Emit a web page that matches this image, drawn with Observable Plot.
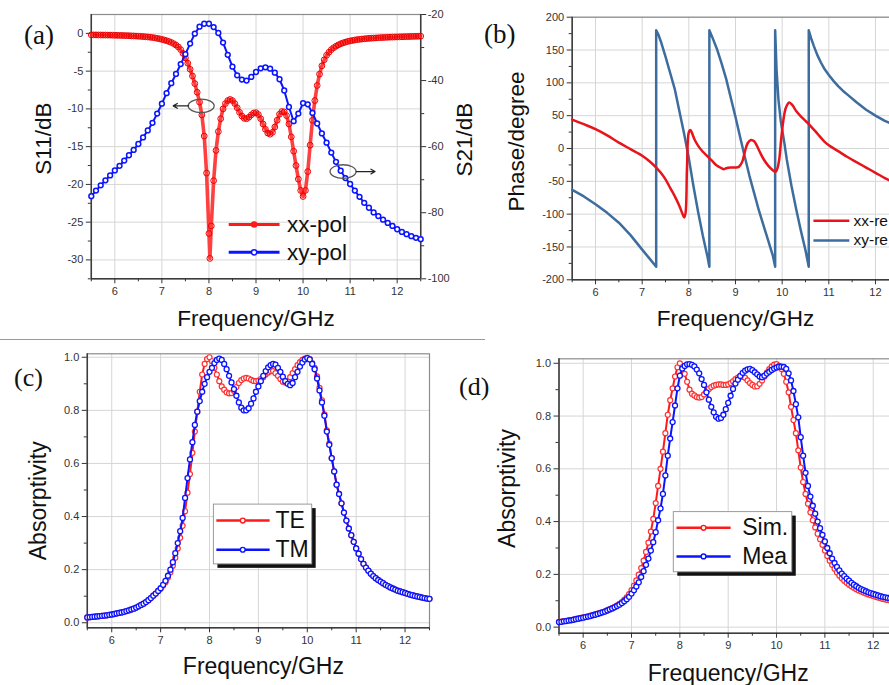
<!DOCTYPE html>
<html><head><meta charset="utf-8">
<script src="https://cdn.jsdelivr.net/npm/d3@7"></script>
<script src="https://cdn.jsdelivr.net/npm/@observablehq/plot@0.6"></script>
<style>
html,body{margin:0;padding:0;background:#fff}
#page{position:relative;width:889px;height:685px;overflow:hidden;background:#fff;font-family:"Liberation Sans",Arial,sans-serif}
.panel{position:absolute}
.tag{position:absolute;font-family:"Liberation Serif","Times New Roman",serif;line-height:1;color:#111;white-space:nowrap}
.sep{position:absolute;left:0;top:339px;width:485px;height:1px;background:#9a9a9a}
</style></head><body><div id="page">
<div class="panel" id="pa" style="left:0;top:0;width:480px;height:340px"></div>
<div class="panel" id="pb" style="left:445px;top:0;width:470px;height:340px"></div>
<div class="panel" id="pc" style="left:0;top:340px;width:445px;height:345px"></div>
<div class="panel" id="pd" style="left:445px;top:340px;width:470px;height:345px"></div>
<div class="sep"></div>
<div class="tag" style="left:24px;top:22px;font-size:27px">(a)</div>
<div class="tag" style="left:484px;top:21px;font-size:27px">(b)</div>
<div class="tag" style="left:14px;top:365px;font-size:26px">(c)</div>
<div class="tag" style="left:459px;top:374px;font-size:26px">(d)</div>
</div>
<script>
// ---------- data ----------
// frequency sampling (GHz)
const freq05 = d3.range(141).map(i => Math.round((5.5 + i * 0.05) * 100) / 100);
const freq10 = d3.range(71).map(i => Math.round((5.5 + i * 0.1) * 10) / 10);

// (a) S11 xx-pol (dB), sampled on freq05
const s11 = [
-0.20,-0.20,-0.20,-0.21,-0.21,-0.22,-0.22,-0.23,-0.23,-0.24,
-0.25,-0.26,-0.27,-0.28,-0.29,-0.30,-0.31,-0.33,-0.34,-0.36,
-0.38,-0.40,-0.42,-0.45,-0.48,-0.51,-0.55,-0.60,-0.66,-0.72,
-0.80,-0.88,-0.97,-1.08,-1.20,-1.36,-1.55,-1.80,-2.15,-2.65,
-3.25,-3.95,-4.75,-5.65,-6.65,-7.80,-9.10,-10.8,-13.6,-18.5,
-26.5,-25.5,-19.5,-15.5,-13.0,-11.3,-10.0,-9.3,-8.9,-8.75,
-8.9,-9.3,-9.85,-10.45,-10.95,-11.25,-11.3,-11.1,-10.8,-10.55,
-10.5,-10.75,-11.3,-12.0,-12.7,-13.2,-13.35,-13.1,-12.4,-11.5,
-10.7,-10.35,-10.4,-10.9,-12.0,-13.7,-15.6,-17.5,-19.3,-20.8,
-21.6,-20.8,-18.3,-14.8,-11.5,-8.9,-6.9,-5.4,-4.3,-3.5,
-2.9,-2.5,-2.15,-1.9,-1.7,-1.52,-1.38,-1.26,-1.16,-1.07,
-1.00,-0.94,-0.88,-0.83,-0.79,-0.75,-0.72,-0.69,-0.66,-0.64,
-0.62,-0.60,-0.58,-0.56,-0.55,-0.53,-0.52,-0.50,-0.49,-0.48,
-0.47,-0.46,-0.45,-0.44,-0.43,-0.42,-0.41,-0.40,-0.39,-0.38,
-0.37];
const s11DipFreq = [8.02];
const s11DipVal = [-29.8];

// (a) S21 xy-pol (dB), sampled on freq10
const s21 = [
-75.0,-73.3,-71.7,-70.2,-68.7,-67.2,-65.8,-64.2,-62.6,-61.0,
-59.2,-57.2,-55.1,-52.8,-50.0,-47.0,-43.8,-40.8,-38.0,-35.0,
-32.0,-28.8,-25.8,-23.7,-22.8,-22.8,-23.8,-25.6,-28.5,-32.2,
-35.8,-38.4,-39.7,-40.0,-38.9,-37.4,-36.3,-36.0,-36.4,-37.6,
-39.6,-43.0,-48.0,-52.3,-50.0,-46.8,-47.2,-49.8,-53.0,-56.0,
-58.8,-61.8,-64.6,-67.3,-69.5,-71.3,-73.3,-75.2,-77.0,-78.5,
-79.9,-81.0,-82.1,-83.1,-84.0,-85.0,-85.8,-86.5,-87.1,-87.6,
-88.0];

// (b) phase (degree)
const phaseXXFreq = [5.5,5.75,6.0,6.25,6.5,6.75,7.0,7.15,7.3,7.4,7.5,7.6,7.7,7.8,7.85,7.9,7.93,7.96,8.0,8.03,8.06,8.12,8.2,8.3,8.4,8.5,8.6,8.7,8.75,8.8,8.9,9.0,9.07,9.14,9.2,9.26,9.33,9.4,9.46,9.52,9.6,9.7,9.8,9.86,9.9,9.94,9.98,10.03,10.08,10.15,10.22,10.3,10.4,10.5,10.6,10.75,10.9,11.0,11.2,11.4,11.6,11.8,12.0,12.2,12.5];
const phaseXXVal = [44,37,29.5,20,9,-1,-11,-19,-29,-37,-47,-60,-73,-88,-97,-105,-98,-30,25,28,25,14,4,-5,-12,-19,-26,-30,-31.5,-30,-29,-29,-28,-21,-5,8,13,11,4,-5,-16,-26,-33,-35.5,-30,-15,15,45,62,70,66,57,49,42,35,23,11,5,-4,-13,-21,-29,-37,-45,-55];
const phaseXYFreq = [5.5,5.75,6.0,6.25,6.5,6.75,7.0,7.15,7.3,7.3,7.35,7.4,7.5,7.6,7.7,7.8,7.9,8.0,8.1,8.2,8.3,8.4,8.44,8.44,8.5,8.6,8.7,8.8,8.9,9.0,9.1,9.2,9.3,9.4,9.5,9.6,9.7,9.8,9.85,9.85,9.88,9.92,9.97,10.05,10.1,10.2,10.3,10.4,10.5,10.57,10.57,10.62,10.68,10.75,10.83,10.9,11.0,11.1,11.2,11.3,11.4,11.6,11.8,12.0,12.2,12.5];
const phaseXYVal = [-63,-73,-85,-98,-113,-132,-154,-167,-180,180,173,163,140,115,90,56,22,-15,-58,-97,-133,-165,-180,180,170,152,130,106,77,48,17,-13,-42,-68,-94,-117,-140,-163,-180,180,120,75,42,7,-17,-57,-92,-125,-155,-180,180,168,156,143,131,122,112,103,95,88,82,70,59,50,42,33];

// (c) absorptivity TE / TM, sampled on freq05
const absTE = [
0.020,0.021,0.022,0.023,0.024,0.025,0.026,0.027,0.028,0.030,
0.031,0.033,0.035,0.037,0.039,0.041,0.044,0.047,0.050,0.053,
0.057,0.062,0.067,0.072,0.078,0.085,0.093,0.102,0.110,0.120,
0.128,0.140,0.153,0.170,0.190,0.215,0.245,0.280,0.320,0.365,
0.420,0.490,0.560,0.640,0.720,0.795,0.870,0.935,0.975,0.993,
1.000,0.985,0.960,0.935,0.910,0.890,0.878,0.868,0.864,0.865,
0.874,0.888,0.903,0.914,0.920,0.922,0.920,0.915,0.911,0.910,
0.912,0.918,0.925,0.935,0.943,0.948,0.948,0.940,0.930,0.918,
0.908,0.905,0.910,0.925,0.940,0.955,0.970,0.982,0.990,0.995,
0.998,0.993,0.978,0.960,0.928,0.885,0.838,0.785,0.725,0.675,
0.620,0.570,0.520,0.485,0.450,0.415,0.385,0.355,0.330,0.305,
0.280,0.260,0.240,0.222,0.208,0.196,0.185,0.176,0.168,0.161,
0.155,0.149,0.143,0.138,0.133,0.129,0.125,0.121,0.118,0.115,
0.112,0.109,0.106,0.104,0.101,0.099,0.097,0.095,0.093,0.091,
0.090];
const absTM = [
0.020,0.021,0.022,0.023,0.024,0.025,0.026,0.027,0.028,0.030,
0.031,0.033,0.035,0.037,0.039,0.041,0.044,0.047,0.050,0.053,
0.057,0.062,0.067,0.072,0.078,0.085,0.093,0.102,0.110,0.120,
0.130,0.143,0.158,0.177,0.200,0.228,0.262,0.300,0.345,0.395,
0.470,0.545,0.615,0.680,0.745,0.795,0.835,0.870,0.900,0.925,
0.945,0.960,0.978,0.990,0.995,0.990,0.975,0.955,0.930,0.905,
0.880,0.855,0.830,0.810,0.800,0.800,0.808,0.825,0.845,0.870,
0.890,0.910,0.930,0.948,0.962,0.970,0.975,0.972,0.960,0.945,
0.927,0.910,0.900,0.895,0.903,0.925,0.945,0.965,0.980,0.992,
0.997,0.992,0.975,0.955,0.920,0.875,0.830,0.780,0.720,0.670,
0.620,0.570,0.520,0.485,0.450,0.415,0.385,0.355,0.330,0.305,
0.280,0.260,0.240,0.222,0.208,0.196,0.185,0.176,0.168,0.161,
0.155,0.149,0.143,0.138,0.133,0.129,0.125,0.121,0.118,0.115,
0.112,0.109,0.106,0.104,0.101,0.099,0.097,0.095,0.093,0.091,
0.090];

// (d) absorptivity Sim. / Mea, sampled on freq05
const absSim = [
0.020,0.021,0.023,0.024,0.026,0.027,0.029,0.031,0.033,0.035,
0.037,0.039,0.041,0.044,0.046,0.049,0.051,0.054,0.057,0.060,
0.064,0.068,0.072,0.077,0.082,0.088,0.095,0.103,0.113,0.125,
0.140,0.157,0.177,0.199,0.224,0.252,0.285,0.320,0.362,0.410,
0.470,0.535,0.600,0.665,0.735,0.805,0.860,0.905,0.950,0.985,
1.000,0.985,0.960,0.930,0.900,0.885,0.878,0.872,0.870,0.872,
0.882,0.893,0.903,0.910,0.915,0.918,0.920,0.920,0.918,0.918,
0.920,0.925,0.932,0.940,0.946,0.948,0.948,0.945,0.935,0.925,
0.918,0.912,0.913,0.922,0.935,0.950,0.965,0.978,0.988,0.995,
0.997,0.990,0.978,0.960,0.930,0.890,0.835,0.785,0.735,0.670,
0.605,0.550,0.505,0.468,0.435,0.405,0.378,0.354,0.333,0.312,
0.290,0.270,0.252,0.236,0.221,0.207,0.195,0.185,0.176,0.168,
0.161,0.155,0.149,0.144,0.139,0.135,0.131,0.127,0.124,0.121,
0.118,0.115,0.112,0.110,0.107,0.105,0.103,0.101,0.099,0.097,
0.095];
const absMea = [
0.019,0.020,0.022,0.023,0.025,0.026,0.028,0.030,0.032,0.034,
0.036,0.038,0.040,0.042,0.045,0.047,0.050,0.053,0.056,0.059,
0.063,0.067,0.071,0.075,0.080,0.085,0.091,0.098,0.106,0.115,
0.127,0.140,0.154,0.170,0.190,0.212,0.236,0.260,0.290,0.322,
0.360,0.405,0.450,0.505,0.575,0.650,0.715,0.777,0.840,0.905,
0.953,0.980,0.990,0.996,0.997,0.994,0.988,0.976,0.962,0.940,
0.918,0.890,0.862,0.835,0.814,0.797,0.790,0.793,0.805,0.826,
0.850,0.877,0.903,0.923,0.938,0.952,0.964,0.972,0.977,0.979,
0.974,0.966,0.958,0.950,0.947,0.953,0.961,0.968,0.975,0.980,
0.984,0.987,0.987,0.986,0.979,0.962,0.935,0.895,0.845,0.795,
0.720,0.650,0.585,0.535,0.495,0.460,0.430,0.400,0.375,0.350,
0.325,0.300,0.280,0.260,0.243,0.228,0.215,0.203,0.193,0.184,
0.176,0.168,0.161,0.155,0.149,0.144,0.140,0.136,0.132,0.129,
0.126,0.123,0.120,0.117,0.115,0.113,0.111,0.109,0.107,0.105,
0.103];

// ticks
const freqTicks = [6,7,8,9,10,11,12];
const freqMinor = [5.5,6.5,7.5,8.5,9.5,10.5,11.5,12.5];
const s11Ticks = [-30,-25,-20,-15,-10,-5,0];
const s11Minor = [-32.5,-27.5,-22.5,-17.5,-12.5,-7.5,-2.5];
const s21Ticks = [-100,-80,-60,-40,-20];
const s21Minor = [-90,-70,-50,-30];
const phaseTicks = [-200,-150,-100,-50,0,50,100,150,200];
const phaseMinor = [-175,-125,-75,-25,25,75,125,175];
const absTicks = [0,0.2,0.4,0.6,0.8,1.0];
const absMinor = [0.1,0.3,0.5,0.7,0.9];

// ---------- helpers ----------
const FONT = "'Liberation Sans', Arial, Helvetica, sans-serif";
const xDomain = [5.5, 12.5];
const rows = (xs, ys) => xs.map((x, i) => ({f: x, v: ys[i]}));
// left S11 axis [-32.5, 2.5] shares pixels with right S21 axis [-100, -20]
const s21ToLeft = v => -32.5 + (v + 100) * 35 / 80;
const leftToS21 = d => Math.round(-100 + (d + 32.5) * 80 / 35);

function panel(o) {
  return Plot.plot({
    width: o.width, height: o.height,
    marginTop: o.mt, marginRight: o.mr, marginBottom: o.mb, marginLeft: o.ml,
    style: {background: "transparent", maxWidth: "none", overflow: "visible", fontFamily: FONT},
    x: {domain: xDomain, label: null},
    y: {domain: o.yDomain, label: null},
    marks: [
      Plot.gridX(freqTicks, {stroke: "#d6d6d6", strokeOpacity: 1}),
      Plot.gridY(o.yTicks, {stroke: "#d6d6d6", strokeOpacity: 1}),
      Plot.frame({stroke: "#8c8c8c", strokeWidth: 1.2}),
      Plot.ruleX([xDomain[0]], {stroke: "#3c3c3c", strokeWidth: 1.5}),
      Plot.ruleY([o.yDomain[0]], {stroke: "#3c3c3c", strokeWidth: 1.5}),
      Plot.axisX(freqTicks, {tickSize: 5, tickPadding: 3, fontSize: 11, color: "#333", label: null, tickFormat: d => String(d)}),
      Plot.axisX(freqMinor, {tickSize: 3, color: "#333", label: null, tickFormat: () => ""}),
      Plot.axisY(o.yTicks, {anchor: "left", tickSize: 5, tickPadding: 3, fontSize: 11, color: "#333", label: null, tickFormat: o.yFormat}),
      Plot.axisY(o.yMinor, {anchor: "left", tickSize: 3, color: "#333", label: null, tickFormat: () => ""}),
      ...o.marks,
      Plot.text([o.xLabel], {text: d => d, frameAnchor: "bottom", textAnchor: "middle", lineAnchor: "bottom", dy: o.xLabelDy, dx: o.xLabelDx || 0, fontSize: o.labelSize, fill: "#111"}),
      Plot.text([o.yLabel], {text: d => d, frameAnchor: "left", textAnchor: "middle", lineAnchor: "middle", rotate: -90, dx: o.yLabelDx, dy: o.yLabelDy, fontSize: o.labelSize, fill: "#111"})
    ]
  });
}

function legendMarks(items, opt) {
  const out = [];
  for (const it of items) {
    out.push(Plot.link([it], {x1: () => opt.x1, x2: () => opt.x2, y1: "y", y2: "y", stroke: it.color, strokeWidth: opt.lineWidth}));
    out.push(Plot.dot([it], {x: () => opt.xm, y: "y", r: opt.r, stroke: it.color, strokeWidth: 1.4, fill: it.markerFill}));
    out.push(Plot.text([it], {x: () => opt.xt, y: "y", text: "label", textAnchor: "start", fontSize: opt.fontSize, fill: "#111"}));
  }
  return out;
}

function ellipse(rx, ry) {
  const k = 0.5523;
  return {draw(ctx) {
    ctx.moveTo(rx, 0);
    ctx.bezierCurveTo(rx, k * ry, k * rx, ry, 0, ry);
    ctx.bezierCurveTo(-k * rx, ry, -rx, k * ry, -rx, 0);
    ctx.bezierCurveTo(-rx, -k * ry, -k * rx, -ry, 0, -ry);
    ctx.bezierCurveTo(k * rx, -ry, rx, -k * ry, rx, 0);
    ctx.closePath();
  }};
}

const RED = "#ff1a1a", BLUE = "#0a14ff";

// ---------- (a) ----------
const s11Data = rows(freq05, s11).concat(rows(s11DipFreq, s11DipVal)).sort((a, b) => a.f - b.f);
const s21Data = rows(freq10, s21);
const legendA = [
  {label: "xx-pol", y: -25.3, color: RED, markerFill: RED},
  {label: "xy-pol", y: -29.0, color: BLUE, markerFill: "#fff"}
];
const ovals = [{f: 7.835, v: -9.6}, {f: 10.85, v: -18.3}];
const pointers = [{f1: 7.57, f2: 7.24, v: -9.6}, {f1: 11.13, f2: 11.53, v: -18.3}];

document.getElementById("pa").append(panel({
  width: 480, height: 340, mt: 14, mr: 59.8, mb: 61.7, ml: 90.8,
  yDomain: [-32.5, 2.5], yTicks: s11Ticks, yMinor: s11Minor, yFormat: d => String(d),
  xLabel: "Frequency/GHz", xLabelDy: 46.7, yLabel: "S11/dB", yLabelDx: -48, yLabelDy: -8, labelSize: 22.5,
  marks: [
    Plot.ruleX([xDomain[1]], {stroke: "#3c3c3c", strokeWidth: 1.5}),
    Plot.axisY(s21Ticks.map(s21ToLeft), {anchor: "right", tickSize: 5, tickPadding: 2, fontSize: 11, color: "#333", label: null, tickFormat: d => String(leftToS21(d))}),
    Plot.axisY(s21Minor.map(s21ToLeft), {anchor: "right", tickSize: 3, color: "#333", label: null, tickFormat: () => ""}),
    Plot.line(s11Data, {x: "f", y: "v", stroke: "#ff4040", strokeWidth: 3.6}),
    Plot.dot(s11Data, {x: "f", y: "v", r: 2.9, stroke: "#ee0000", strokeWidth: 1, fill: "none"}),
    Plot.line(s21Data, {x: "f", y: d => s21ToLeft(d.v), stroke: BLUE, strokeWidth: 2}),
    Plot.dot(s21Data, {x: "f", y: d => s21ToLeft(d.v), r: 2.4, stroke: BLUE, strokeWidth: 1.5, fill: "#fff"}),
    Plot.dot(ovals, {x: "f", y: "v", symbol: ellipse(13, 6.8), stroke: "#555", strokeWidth: 1.3, fill: "none"}),
    Plot.arrow(pointers, {x1: "f1", x2: "f2", y1: "v", y2: "v", stroke: "#222", strokeWidth: 1.2, headLength: 6}),
    ...legendMarks(legendA, {x1: 8.42, x2: 9.5, xm: 8.96, xt: 9.66, r: 2.6, fontSize: 22.5, lineWidth: 3}),
    Plot.text(["S21/dB"], {text: d => d, frameAnchor: "right", textAnchor: "middle", lineAnchor: "middle", rotate: -90, dx: 44, dy: -7, fontSize: 22.5, fill: "#111"})
  ]
}));

// ---------- (b) ----------
const phaseXX = rows(phaseXXFreq, phaseXXVal);
const phaseXY = rows(phaseXYFreq, phaseXYVal);
const PRED = "#e8141c", PBLUE = "#3d6d9e";
const legendB = [
  {label: "xx-re", y: -110, color: PRED},
  {label: "xy-re", y: -140, color: PBLUE}
];
document.getElementById("pb").append(panel({
  width: 470, height: 340, mt: 16.7, mr: 16.7, mb: 60.7, ml: 126.7,
  yDomain: [-200, 200], yTicks: phaseTicks, yMinor: phaseMinor, yFormat: d => String(d),
  xLabel: "Frequency/GHz", xLabelDy: 45.7, yLabel: "Phase/degree", yLabelDx: -55, yLabelDy: -7, labelSize: 22.5,
  marks: [
    Plot.line(phaseXY, {x: "f", y: "v", stroke: PBLUE, strokeWidth: 2.5}),
    Plot.line(phaseXX, {x: "f", y: "v", stroke: PRED, strokeWidth: 2.5, curve: "catmull-rom"}),
    ...legendB.map(it => Plot.link([it], {x1: () => 10.67, x2: () => 11.44, y1: "y", y2: "y", stroke: it.color, strokeWidth: 2.5})),
    Plot.text(legendB, {x: () => 11.53, y: "y", text: "label", textAnchor: "start", fontSize: 15.5, fill: "#111"})
  ]
}));

// ---------- (c) ----------
const teData = rows(freq05, absTE);
const tmData = rows(freq05, absTM);
const boxC = [{x1: 8.09, x2: 10.1, y1: 0.22, y2: 0.445}];
const legendC = [
  {label: "TE", y: 0.385, color: RED, markerFill: "#fff"},
  {label: "TM", y: 0.275, color: BLUE, markerFill: "#fff"}
];
document.getElementById("pc").append(panel({
  width: 445, height: 345, mt: 13.3, mr: 16, mb: 57.7, ml: 86.8,
  yDomain: [-0.019, 1.013], yTicks: absTicks, yMinor: absMinor, yFormat: d3.format(".1f"),
  xLabel: "Frequency/GHz", xLabelDy: 46, xLabelDx: 5, yLabel: "Absorptivity", yLabelDx: -49, yLabelDy: 10, labelSize: 23,
  marks: [
    Plot.line(teData, {x: "f", y: "v", stroke: RED, strokeWidth: 2}),
    Plot.dot(teData, {x: "f", y: "v", r: 2.5, stroke: "#ff3030", strokeWidth: 1.2, fill: "#fff"}),
    Plot.line(tmData, {x: "f", y: "v", stroke: BLUE, strokeWidth: 2}),
    Plot.dot(tmData, {x: "f", y: "v", r: 2.5, stroke: BLUE, strokeWidth: 1.3, fill: "#fff"}),
    Plot.rect(boxC, {x1: "x1", x2: "x2", y1: "y1", y2: "y2", fill: "#111", dx: 4, dy: 4}),
    Plot.rect(boxC, {x1: "x1", x2: "x2", y1: "y1", y2: "y2", fill: "#fff", stroke: "#9a9a9a"}),
    ...legendMarks(legendC, {x1: 8.14, x2: 9.23, xm: 8.68, xt: 9.35, r: 2.4, fontSize: 23, lineWidth: 2.5})
  ]
}));

// ---------- (d) ----------
const simData = rows(freq05, absSim);
const meaData = rows(freq05, absMea);
const boxD = [{x1: 7.875, x2: 10.325, y1: 0.208, y2: 0.436}];
const legendD = [
  {label: "Sim.", y: 0.3765, color: RED, markerFill: "#fff"},
  {label: "Mea", y: 0.268, color: BLUE, markerFill: "#fff"}
];
document.getElementById("pd").append(panel({
  width: 470, height: 345, mt: 18.3, mr: 18.1, mb: 52.3, ml: 113.5,
  yDomain: [-0.023, 1.017], yTicks: absTicks, yMinor: absMinor, yFormat: d3.format(".1f"),
  xLabel: "Frequency/GHz", xLabelDy: 47.3, yLabel: "Absorptivity", yLabelDx: -51, yLabelDy: -7.5, labelSize: 23,
  marks: [
    Plot.line(simData, {x: "f", y: "v", stroke: RED, strokeWidth: 2}),
    Plot.dot(simData, {x: "f", y: "v", r: 2.5, stroke: "#ff3030", strokeWidth: 1.2, fill: "#fff"}),
    Plot.line(meaData, {x: "f", y: "v", stroke: BLUE, strokeWidth: 2}),
    Plot.dot(meaData, {x: "f", y: "v", r: 2.5, stroke: BLUE, strokeWidth: 1.3, fill: "#fff"}),
    Plot.rect(boxD, {x1: "x1", x2: "x2", y1: "y1", y2: "y2", fill: "#111", dx: 4, dy: 4}),
    Plot.rect(boxD, {x1: "x1", x2: "x2", y1: "y1", y2: "y2", fill: "#fff", stroke: "#9a9a9a"}),
    ...legendMarks(legendD, {x1: 7.93, x2: 9.05, xm: 8.49, xt: 9.29, r: 2.4, fontSize: 23, lineWidth: 2.5})
  ]
}));
</script>
</body></html>
